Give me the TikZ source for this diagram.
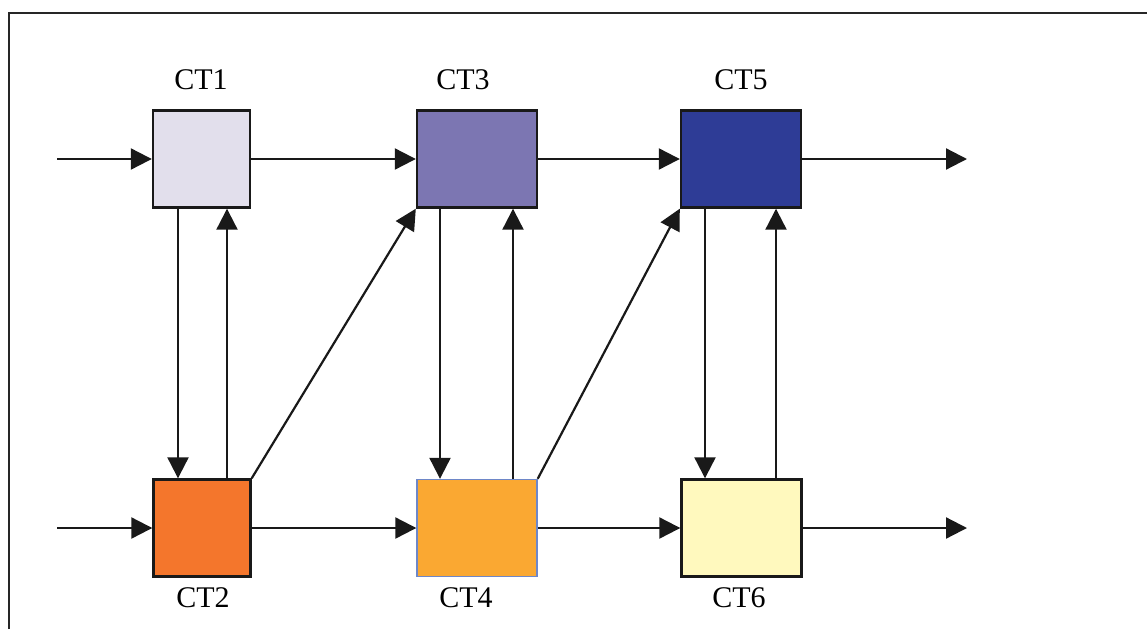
\documentclass[tikz,border=0pt]{standalone}
\usepackage{fontspec}
\setmainfont{Liberation Serif}
\usetikzlibrary{arrows.meta}
\definecolor{ctone}{RGB}{226,223,236}
\definecolor{cttwo}{RGB}{244,118,44}
\definecolor{ctthree}{RGB}{124,118,178}
\definecolor{ctfour}{RGB}{250,168,50}
\definecolor{ctfive}{RGB}{46,60,150}
\definecolor{ctsix}{RGB}{255,249,190}
\definecolor{ctfourline}{RGB}{110,135,200}
\begin{document}
\begin{tikzpicture}[x=1pt,y=-1pt,
  cell/.style={draw=black!90,line width=2.4pt,rectangle,minimum width=120pt,minimum height=97pt,inner sep=0pt},
  narrow/.style={minimum width=97pt},
  lab/.style={font=\fontsize{30}{32}\selectfont,inner sep=0pt},
  flow/.style={line width=2.2pt,draw=black!90,-{Triangle[length=21pt,width=21pt]}}]
\useasboundingbox (0,0) rectangle (1147,629);
% outer frame (open on the right and bottom)
\draw[line width=2.4pt,black!85] (9,629) -- (9,13) -- (1147,13);

% cells
\node[cell,narrow,fill=ctone]   (ct1) at (201.5,159) {};
\node[cell,narrow,fill=cttwo]   (ct2) at (202,528) {};
\node[cell,fill=ctthree]        (ct3) at (477,159) {};
\node[cell,fill=ctfour,draw=ctfourline,line width=1.4pt] (ct4) at (477,528) {};
\node[cell,fill=ctfive]         (ct5) at (741,159) {};
\node[cell,fill=ctsix]          (ct6) at (741.5,528) {};

% labels
\node[lab] (l1) at (201,80) {CT1};
\node[lab] (l3) at (463,80) {CT3};
\node[lab] (l5) at (741,80) {CT5};
\node[lab] (l2) at (203,598) {CT2};
\node[lab] (l4) at (466,598) {CT4};
\node[lab] (l6) at (739,598) {CT6};

% free ends of the through-flows
\coordinate (in1) at (57,159);
\coordinate (in2) at (57,528);
\coordinate (out1) at (967,159);
\coordinate (out2) at (967,528);

% columns of the vertical links
\coordinate (d1) at (178,0);
\coordinate (u1) at (227,0);
\coordinate (d3) at (440,0);
\coordinate (u3) at (513,0);
\coordinate (d5) at (705,0);
\coordinate (u5) at (776,0);

% horizontal flows
\draw[flow] (in1) -- (ct1.west);
\draw[flow] (ct1.east) -- (ct3.west);
\draw[flow] (ct3.east) -- (ct5.west);
\draw[flow] (ct5.east) -- (out1);
\draw[flow] (in2) -- (ct2.west);
\draw[flow] (ct2.east) -- (ct4.west);
\draw[flow] (ct4.east) -- (ct6.west);
\draw[flow] (ct6.east) -- (out2);

% vertical links
\draw[flow] (ct1.south -| d1) -- (ct2.north -| d1);
\draw[flow] (ct2.north -| u1) -- (ct1.south -| u1);
\draw[flow] (ct3.south -| d3) -- (ct4.north -| d3);
\draw[flow] (ct4.north -| u3) -- (ct3.south -| u3);
\draw[flow] (ct5.south -| d5) -- (ct6.north -| d5);
\draw[flow] (ct6.north -| u5) -- (ct5.south -| u5);

% diagonal links
\draw[flow] (ct2.north east) -- (ct3.south west);
\draw[flow] (ct4.north east) -- (ct5.south west);
\end{tikzpicture}
\end{document}
